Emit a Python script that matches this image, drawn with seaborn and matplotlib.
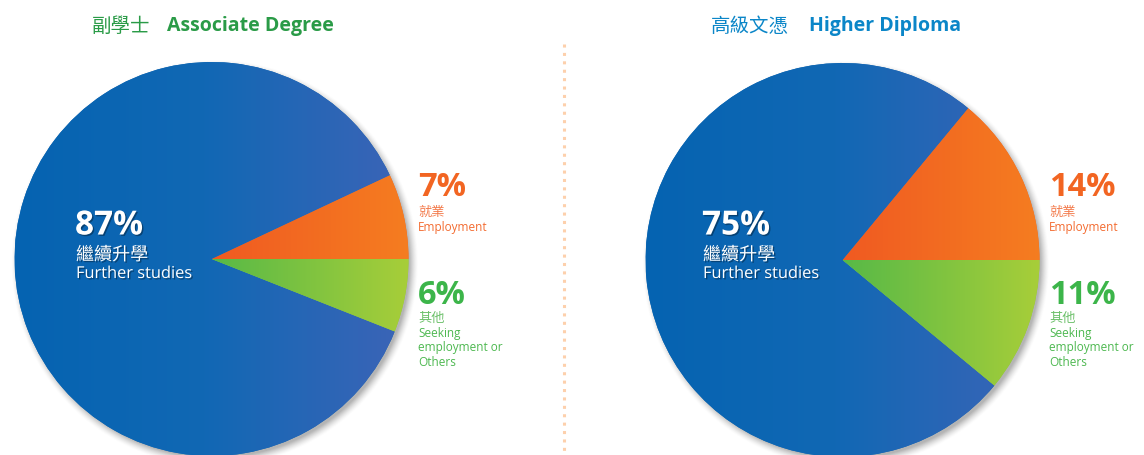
import numpy as np
import matplotlib
matplotlib.use("Agg")
import matplotlib.pyplot as plt
import matplotlib.patheffects as pe
from matplotlib.colors import LinearSegmentedColormap, to_rgb
import seaborn as sns

# ---------------- data ----------------
categories = ["Employment", "Further studies", "Seeking employment or Others"]
ad_values = [7, 87, 6]     # Associate Degree
hd_values = [14, 75, 11]   # Higher Diploma
titles_zh = ["副學士", "高級文憑"]
titles_en = ["Associate Degree", "Higher Diploma"]
label_zh = ["就業", "繼續升學", "其他"]
label_en = ["Employment", "Further studies", "Seeking\nemployment or\nOthers"]

sns.set_theme(style="white")
plt.rcParams["font.family"] = ["Open Sans", "Noto Sans CJK TC", "DejaVu Sans"]

W, H = 1144, 455
fig = plt.figure(figsize=(W / 100, H / 100), dpi=100)
ax = fig.add_axes([0, 0, 1, 1])

CJK = ["Noto Sans CJK TC", "DejaVu Sans"]
LAT = ["Open Sans", "DejaVu Sans"]

def Y(y):  # image row -> data y
    return H - y

grad = {
    0: [(0.0, "#f05a22"), (1.0, "#f57d20")],                       # orange, center->edge
    1: [(0.0, "#0563b1"), (0.48, "#1168b4"), (1.0, "#3d64b7")],     # blue, left->right
    2: [(0.0, "#57b947"), (1.0, "#a8ce39")],                        # green, center->edge
}
solid = ["#f26522", "#1167b3", "#8dc63f"]

def draw_pie(values, cx, cy, r):
    # soft shadow
    n = 400
    xs = np.linspace(cx - r - 20, cx + r + 20, n)
    ys = np.linspace(cy - r - 20, cy + r + 20, n)
    XX, YY = np.meshgrid(xs, ys)
    d = np.hypot(XX - (cx + 3), YY - (cy - 4))
    a = np.clip((r + 7 - d) / 9.0, 0, 1) ** 1.5 * 0.45
    img = np.zeros((n, n, 4))
    img[..., :3] = 0.35
    img[..., 3] = a
    ax.imshow(img, extent=(xs[0], xs[-1], ys[0], ys[-1]), origin="lower",
              zorder=0.5, interpolation="bilinear")
    wedges, _ = ax.pie(values, colors=solid, startangle=0, counterclock=True,
                       center=(cx, cy), radius=r, frame=True,
                       wedgeprops=dict(linewidth=0, zorder=1))
    for i, w in enumerate(wedges):
        w.set_zorder(1)
        cmap = LinearSegmentedColormap.from_list(f"g{i}", [(p, to_rgb(c)) for p, c in grad[i]])
        g = np.linspace(0, 1, 256)[None, :]
        x0 = cx - r if i == 1 else cx
        im = ax.imshow(g, cmap=cmap, extent=(x0, cx + r + 1, cy - r - 1, cy + r + 1),
                       origin="lower", zorder=2, interpolation="bilinear", aspect="auto")
        im.set_clip_path(w)

shadow_fx = [pe.withSimplePatchShadow(offset=(1, -1), shadow_rgbFace="black", alpha=0.35)]

def panel(values, cx, cy, r, title_zh, title_en, tx_zh, tx_en, title_color,
          big_x, side_x):
    draw_pie(values, cx, cy, r)
    ax.text(tx_zh, Y(26), title_zh, family=CJK, fontsize=14, color=title_color,
            va="center", ha="left")
    ax.text(tx_en, Y(26), title_en, family=LAT, fontsize=14, color=title_color,
            weight="bold", va="center", ha="left")
    # further studies
    ax.text(big_x, Y(226), f"{values[1]}%", family=LAT, fontsize=24, weight="bold",
            color="white", va="center", ha="left", path_effects=shadow_fx, zorder=5)
    ax.text(big_x + 1, Y(255), label_zh[1], family=CJK, fontsize=13, color="white",
            va="center", ha="left", path_effects=shadow_fx, zorder=5)
    ax.text(big_x + 1, Y(274), label_en[1], family=LAT, fontsize=11.8, color="white",
            va="center", ha="left", path_effects=shadow_fx, zorder=5)
    # employment
    ax.text(side_x, Y(188), f"{values[0]}%", family=LAT, fontsize=23.5, weight="bold",
            color="#f26522", va="center", ha="left")
    ax.text(side_x, Y(212), label_zh[0], family=CJK, fontsize=9.5, color="#f37a4a",
            va="center", ha="left")
    ax.text(side_x, Y(227), label_en[0], family=LAT, fontsize=8.5, color="#f36b30",
            va="center", ha="left")
    # others
    ax.text(side_x, Y(295), f"{values[2]}%", family=LAT, fontsize=23.5, weight="bold",
            color="#3cb54a", va="center", ha="left")
    ax.text(side_x, Y(318), label_zh[2], family=CJK, fontsize=9.5, color="#6cc06a",
            va="center", ha="left")
    for k, line in enumerate(label_en[2].split("\n")):
        ax.text(side_x, Y(333 + 14.5 * k), line, family=LAT, fontsize=8.5,
                color="#4db850", va="center", ha="left")

panel(ad_values, 211.5, Y(259), 197, titles_zh[0], titles_en[0], 92, 167, "#2a9b47",
      75, 418)
panel(hd_values, 842.5, Y(260), 197, titles_zh[1], titles_en[1], 711, 809, "#0b86c8",
      702, 1049)

# dotted separator
ax.plot([564, 564], [Y(44), Y(455)], color="#fdd0ac", lw=2.2,
        linestyle=(0, (1, 1.75)), dash_capstyle="butt", zorder=0)

ax.set_xlim(0, W)
ax.set_ylim(0, H)
ax.set_aspect("auto")
ax.axis("off")
fig.savefig("out.png", dpi=100)
